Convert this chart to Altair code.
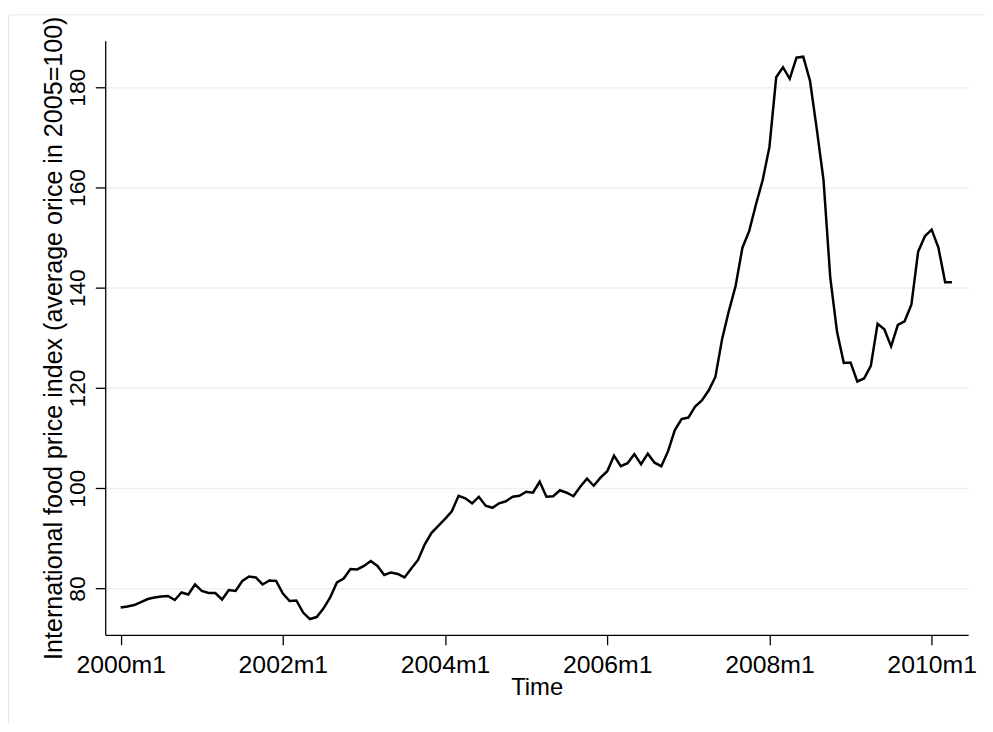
import altair as alt
import pandas as pd

# Monthly international food price index, 2000m1 .. 2010m4 (2005 = 100)
price_index = [
    76.2, 76.4, 76.7, 77.3, 77.9, 78.2, 78.4, 78.5, 77.7, 79.2, 78.8, 80.8,   # 2000
    79.5, 79.1, 79.1, 77.8, 79.7, 79.5, 81.5, 82.4, 82.2, 80.8, 81.6, 81.5,   # 2001
    79.0, 77.5, 77.6, 75.2, 73.9, 74.3, 76.0, 78.2, 81.2, 82.0, 83.9, 83.8,   # 2002
    84.5, 85.5, 84.5, 82.7, 83.2, 82.9, 82.2, 84.0, 85.7, 88.8, 91.1, 92.5,   # 2003
    93.9, 95.4, 98.5, 98.0, 97.0, 98.3, 96.5, 96.1, 97.0, 97.4, 98.3, 98.5,   # 2004
    99.3, 99.1, 101.3, 98.3, 98.4, 99.6, 99.1, 98.4, 100.3, 101.9, 100.5, 102.1,  # 2005
    103.4, 106.5, 104.4, 105.0, 106.8, 104.8, 106.9, 105.1, 104.4, 107.4, 111.6, 113.8,  # 2006
    114.1, 116.3, 117.5, 119.5, 122.2, 129.8, 135.4, 140.4, 148.0, 151.3, 156.6, 161.5,  # 2007
    168.1, 182.0, 184.0, 181.7, 185.9, 186.1, 181.3, 171.7, 161.5, 142.0, 131.2, 125.0,  # 2008
    125.1, 121.3, 121.9, 124.4, 132.8, 131.7, 128.3, 132.6, 133.3, 136.6, 147.2, 150.3,  # 2009
    151.6, 148.0, 141.1, 141.1,                                                # 2010
]
month_index = list(range(len(price_index)))  # 0 = 2000m1

x_tick_values = [0, 24, 48, 72, 96, 120]
y_tick_values = [80, 100, 120, 140, 160, 180]

x_title = "Time"
y_title = "International food price index (average orice in 2005=100)"

df = pd.DataFrame({"t": month_index, "price": price_index})

FONT = "Liberation Sans"

line = alt.Chart(df).mark_line(color="#000000", strokeWidth=2.5, strokeJoin="miter").encode(
    x=alt.X(
        "t:Q",
        scale=alt.Scale(domain=[-2.29, 125.4], nice=False, zero=False),
        axis=alt.Axis(
            values=x_tick_values,
            labelExpr="floor(datum.value / 12) + 2000 + 'm1'",
            title=x_title,
            grid=False,
            domainColor="#000000",
            domainWidth=1.3,
            tickColor="#000000",
            tickWidth=1.3,
            tickSize=10,
            labelFont=FONT,
            labelFontSize=25,
            labelColor="#000000",
            labelBaseline="alphabetic",
            labelPadding=28.5,
            labelFlush=False,
            labelOverlap=False,
            titleFont=FONT,
            titleFontSize=24,
            titleFontWeight="normal",
            titleColor="#000000",
            titleBaseline="alphabetic",
            titleY=59.7,
        ),
    ),
    y=alt.Y(
        "price:Q",
        scale=alt.Scale(domain=[70.76, 189.3], nice=False, zero=False),
        axis=alt.Axis(
            values=y_tick_values,
            title=y_title,
            grid=True,
            gridColor="#EAF2F3",
            gridWidth=1.6,
            domainColor="#000000",
            domainWidth=1.3,
            tickColor="#000000",
            tickWidth=1.3,
            tickSize=10,
            labelFont=FONT,
            labelFontSize=23,
            labelColor="#000000",
            labelAngle=-90,
            labelAlign="center",
            labelBaseline="alphabetic",
            labelPadding=11,
            labelFlush=False,
            labelOverlap=False,
            titleFont=FONT,
            titleFontSize=25.3,
            titleFontWeight="normal",
            titleColor="#000000",
            titleAngle=-90,
            titleBaseline="alphabetic",
            titleX=-44.3,
        ),
    ),
)

# faint outer graph-region border (top and left edges visible in the reference)
border_top = alt.Chart(df.head(1)).mark_rule(color="#E6E6E6", strokeWidth=1).encode(
    x=alt.value(-97.5), x2=alt.value(900), y=alt.value(-26)
)
border_left = alt.Chart(df.head(1)).mark_rule(color="#E6E6E6", strokeWidth=1).encode(
    x=alt.value(-97.5), y=alt.value(-26), y2=alt.value(700)
)

chart = alt.layer(border_top, border_left, line).properties(
    width=870,
    height=599,
    autosize=alt.AutoSizeParams(type="none"),
    padding={"left": 98, "top": 30, "right": 17, "bottom": 87},
    background="#ffffff",
).configure_view(stroke=None)

chart.save("out.html", embed_options={"renderer": "svg", "actions": False})
